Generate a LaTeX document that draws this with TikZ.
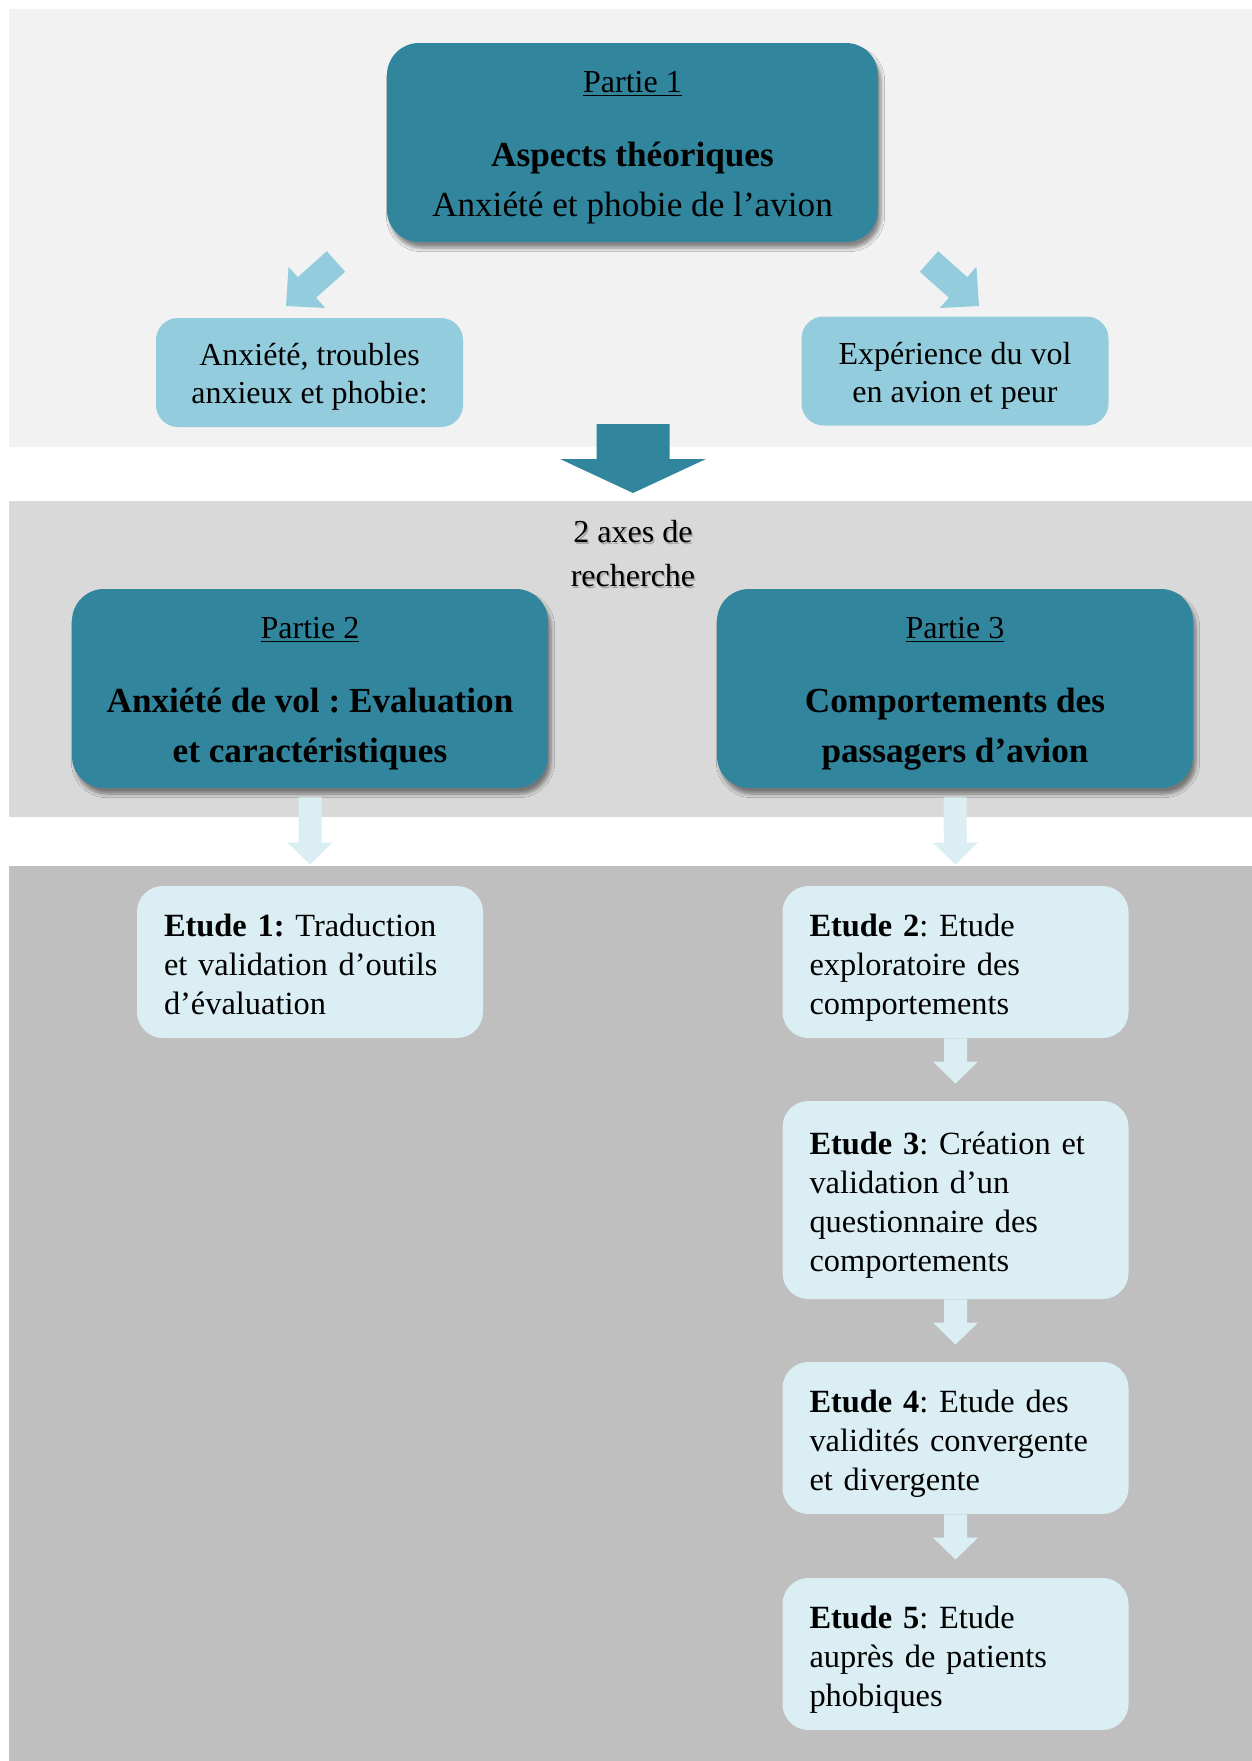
\documentclass[tikz,border=0pt]{standalone}
\usepackage{fontspec}
\setmainfont{Liberation Serif}
\usetikzlibrary{calc}
\usetikzlibrary{shadows.blur}
\definecolor{partColor}{RGB}{49,133,156}
\definecolor{topicColor}{RGB}{147,205,221}
\definecolor{studyColor}{RGB}{219,238,243}
\definecolor{bandOne}{RGB}{242,242,242}
\definecolor{bandTwo}{RGB}{217,217,217}
\definecolor{bandThree}{RGB}{191,191,191}
\tikzstyle{plan} = [x = .5pt, y = -.5pt, every node/.style={execute at begin node=\frenchspacing}]
\tikzstyle{partStyle} = [fill=partColor, rounded corners=16pt, minimum height=99.5pt, align=center, blur shadow={shadow xshift=1.5pt, shadow yshift=-3pt, shadow opacity=45, shadow blur steps=6}, font=\fontsize{17.6}{25}\selectfont]
\tikzstyle{topicStyle} = [fill=topicColor, rounded corners=11pt, minimum width=153.5pt, minimum height=54.5pt, align=center, font=\fontsize{16}{19}\selectfont]
\tikzstyle{studyStyle} = [fill=studyColor, rounded corners=13pt, inner xsep=13.5pt, text width=146pt, minimum height=76pt, align=left, font=\fontsize{16.2}{19.5}\selectfont]
\tikzstyle{partArrow} = [fill=partColor]
\tikzstyle{topicArrow} = [fill=topicColor]
\tikzstyle{studyArrow} = [fill=studyColor]
\newcommand{\partTitle}[1]{{\fontsize{16}{19}\selectfont\rule{0pt}{16pt}\underline{#1}}}
\newcommand{\topStrut}[1]{\rule{0pt}{#1}}
\newcommand{\studyText}[1]{\topStrut{19.25pt}#1\rule[-5.85pt]{0pt}{5.85pt}}
% tail, tip, style, shaft half width, head half width, head length
\newcommand{\blockArrow}[6]{
  \coordinate (ah) at ($(#2)!#6!(#1)$);
  \fill [#3] ($(#1)!#4!90:(#2)$) -- ($(ah)!#4!90:(#2)$) -- ($(ah)!#5!90:(#2)$) -- (#2)
    -- ($(ah)!#5!-90:(#2)$) -- ($(ah)!#4!-90:(#2)$) -- ($(#1)!#4!-90:(#2)$) -- cycle;
}

\begin{document}
\begin{tikzpicture}[plan]
  \useasboundingbox (0,0) rectangle (1252,1761);
  \fill [bandOne] (9,9) rectangle (1252,447);
  \fill [bandTwo] (9,501) rectangle (1252,817);
  \fill [bandThree] (9,866) rectangle (1252,1761);

  \node [partStyle, minimum width=245.5pt] (p1) at (632.5,142.5)
    {\partTitle{Partie 1}\\[12pt]\textbf{Aspects théoriques}\\Anxiété et phobie de l’avion};
  \node [topicStyle] (anxiety) at (309.5,372.5) {\topStrut{15.5pt}Anxiété, troubles\\anxieux et phobie:};
  \node [topicStyle] (flight) at (955,371) {\topStrut{15.5pt}Expérience du vol\\en avion et peur};

  \coordinate (leftTail) at (336,261.5);
  \coordinate (leftTip) at (286,306);
  \coordinate (rightTail) at (929,261.5);
  \coordinate (rightTip) at (979,306);
  \blockArrow{leftTail}{leftTip}{topicArrow}{6.9pt}{13.8pt}{14pt}
  \blockArrow{rightTail}{rightTip}{topicArrow}{6.9pt}{13.8pt}{14pt}

  \coordinate (axesTail) at (633,424);
  \coordinate (axesTip) at (633,493);
  \blockArrow{axesTail}{axesTip}{partArrow}{18.25pt}{36.5pt}{17pt}

  \node [align=center, text=black!35, font=\fontsize{16}{22}\selectfont] (axesShade) at (634.5,556) {2 axes de\\recherche};
  \node [align=center, font=\fontsize{16}{22}\selectfont] (axes) at (633,554) {2 axes de\\recherche};

  \node [partStyle, minimum width=238pt] (p2) at (310,688.5)
    {\partTitle{Partie 2}\\[12pt]\textbf{Anxiété de vol : Evaluation}\\\textbf{et caractéristiques}};
  \node [partStyle, minimum width=238pt] (p3) at (955,688.5)
    {\partTitle{Partie 3}\\[12pt]\textbf{Comportements des}\\\textbf{passagers d’avion}};

  \node [studyStyle] (s1) at (310,962) {\studyText{\textbf{Etude 1:} Traduction\\et validation d’outils\\d’évaluation}};
  \node [studyStyle] (s2) at (955.5,962) {\studyText{\textbf{Etude 2}: Etude\\exploratoire des\\comportements}};
  \node [studyStyle, minimum height=99pt] (s3) at (955.5,1200) {\studyText{\textbf{Etude 3}: Création et\\validation d’un\\questionnaire des\\comportements}};
  \node [studyStyle] (s4) at (955.5,1438) {\studyText{\textbf{Etude 4}: Etude des\\validités convergente\\et divergente}};
  \node [studyStyle] (s5) at (955.5,1654) {\studyText{\textbf{Etude 5}: Etude\\auprès de patients\\phobiques}};

  \coordinate (p2Out) at ($(p2.south)+(0,9)$);
  \coordinate (s1In) at ($(s1.north)+(0,-21)$);
  \coordinate (p3Out) at ($(p3.south)+(0,9)$);
  \coordinate (s2In) at ($(s2.north)+(0,-21)$);
  \coordinate (s3In) at ($(s3.north)+(0,-17)$);
  \coordinate (s4In) at ($(s4.north)+(0,-17)$);
  \coordinate (s5In) at ($(s5.north)+(0,-18)$);
  \blockArrow{p2Out}{s1In}{studyArrow}{5.75pt}{11.25pt}{11pt}
  \blockArrow{p3Out}{s2In}{studyArrow}{5.75pt}{11.25pt}{11pt}
  \blockArrow{s2.south}{s3In}{studyArrow}{5.75pt}{11.25pt}{11pt}
  \blockArrow{s3.south}{s4In}{studyArrow}{5.75pt}{11.25pt}{11pt}
  \blockArrow{s4.south}{s5In}{studyArrow}{5.75pt}{11.25pt}{11pt}
\end{tikzpicture}
\end{document}
